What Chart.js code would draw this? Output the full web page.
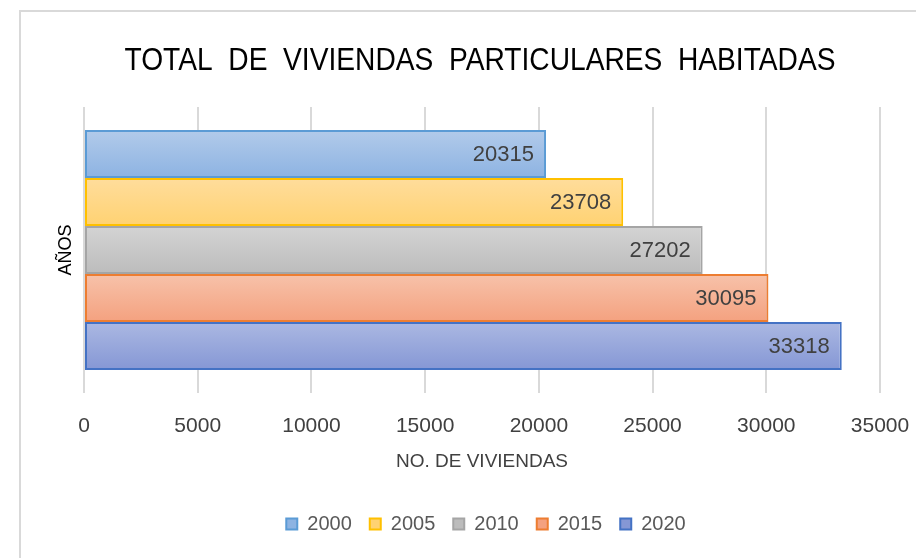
<!DOCTYPE html>
<html>
<head>
<meta charset="utf-8">
<script src="https://cdn.jsdelivr.net/npm/chart.js"></script>
<style>
  html, body { margin: 0; padding: 0; background: #fff; }
  #wrap { width: 916px; height: 558px; }
</style>
</head>
<body>
<div id="wrap"><canvas id="myChart" width="916" height="558"></canvas></div>
<script>
// datos
const categories = ['']
const years = ['2000', '2005', '2010', '2015', '2020']
const viviendas = [20315, 23708, 27202, 30095, 33318]
const xTicks = [0, 5000, 10000, 15000, 20000, 25000, 30000, 35000]

// colores (arriba, abajo, borde)
const colorsTop = ['#b2cbea', '#ffdd9c', '#d4d4d4', '#f7c2aa', '#abb8e2']
const colorsBottom = ['#8db3e2', '#ffd272', '#bcbcbc', '#f4a17f', '#8597d5']
const borders = ['#5b9bd5', '#ffc000', '#a5a5a5', '#ed7d31', '#4472c4']

const FONT = "'Liberation Sans', Arial, sans-serif"
const TITLE = 'TOTAL  DE  VIVIENDAS  PARTICULARES  HABITADAS'

const datasets = years.map((y, i) => ({
  label: y,
  data: [viviendas[i]],
  backgroundColor: colorsBottom[i],
  borderColor: borders[i],
  borderWidth: 2,
  borderSkipped: false,
  categoryPercentage: 0.84,
  barPercentage: 1
}))

// degradado vertical en cada barra
const gradientPlugin = {
  id: 'gradientBars',
  beforeDatasetsDraw: (chart) => {
    const ctx = chart.ctx
    chart.data.datasets.forEach((ds, i) => {
      chart.getDatasetMeta(i).data.forEach(el => {
        const top = el.y - el.height / 2
        const g = ctx.createLinearGradient(0, top, 0, top + el.height)
        g.addColorStop(0, colorsTop[i])
        g.addColorStop(1, colorsBottom[i])
        el.options.backgroundColor = g
      })
    })
  }
}

// etiquetas de valor dentro de la barra
const valueLabels = {
  id: 'valueLabels',
  afterDatasetsDraw: (chart) => {
    const ctx = chart.ctx
    ctx.save()
    ctx.font = '22px ' + FONT
    ctx.fillStyle = '#404040'
    ctx.textAlign = 'right'
    ctx.textBaseline = 'middle'
    chart.data.datasets.forEach((ds, i) => {
      chart.getDatasetMeta(i).data.forEach((el, j) => {
        ctx.fillText(ds.data[j], el.x - 12, el.y + 1)
      })
    })
    ctx.restore()
  }
}

// marco y título (centrado en el marco)
const frame = {
  id: 'frame',
  beforeDraw: (chart) => {
    const ctx = chart.ctx
    ctx.save()
    ctx.fillStyle = '#fff'
    ctx.fillRect(0, 0, chart.width, chart.height)
    ctx.strokeStyle = '#d9d9d9'
    ctx.lineWidth = 2
    ctx.strokeRect(20, 11, 1200, 1200)
    ctx.translate(480, 61)
    ctx.scale(0.88, 1)
    ctx.font = '32px ' + FONT
    ctx.fillStyle = '#000'
    ctx.textAlign = 'center'
    ctx.textBaseline = 'middle'
    ctx.fillText(TITLE, 0, 0)
    ctx.restore()
  }
}

const config = {
  type: 'bar',
  data: { labels: categories, datasets },
  options: {
    indexAxis: 'y',
    responsive: false,
    animation: false,
    layout: { padding: { left: 68, right: 12, top: 107, bottom: 14 } },
    plugins: {
      title: { display: false },
      legend: {
        position: 'bottom',
        labels: {
          color: '#595959',
          font: { family: FONT, size: 20 },
          boxWidth: 11,
          boxHeight: 11,
          padding: 18
        }
      },
      tooltip: { enabled: false }
    },
    scales: {
      x: {
        min: 0,
        max: 35000,
        afterBuildTicks: (scale) => { scale.ticks = xTicks.map(v => ({ value: v })) },
        afterFit: (scale) => {
          scale.height = 103
          scale.paddingRight = 36
        },
        grid: { color: '#d9d9d9', lineWidth: 2, drawTicks: false },
        border: { display: false },
        ticks: {
          color: '#404040',
          font: { family: FONT, size: 21 },
          padding: 21,
          maxRotation: 0,
          callback: (v) => String(v)
        },
        title: {
          display: true,
          text: 'NO. DE VIVIENDAS',
          color: '#404040',
          font: { family: FONT, size: 19 },
          padding: { top: 0, bottom: 23 }
        }
      },
      y: {
        afterFit: (scale) => { scale.width = 16 },
        grid: { display: false },
        border: { display: false },
        ticks: { display: false },
        title: {
          display: true,
          text: 'AÑOS',
          color: '#000',
          font: { family: FONT, size: 18 },
          padding: { top: -13, bottom: 0 }
        }
      }
    }
  },
  plugins: [frame, gradientPlugin, valueLabels]
}

new Chart(document.getElementById('myChart').getContext('2d'), config)
</script>
</body>
</html>
